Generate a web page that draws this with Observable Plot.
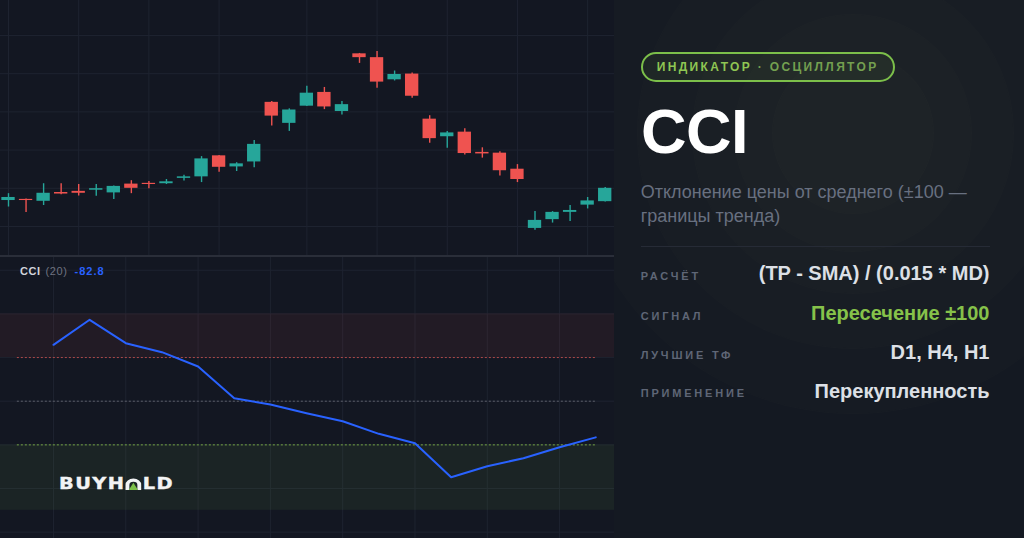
<!DOCTYPE html>
<html><head><meta charset="utf-8">
<script src="https://cdn.jsdelivr.net/npm/d3@7"></script>
<script src="https://cdn.jsdelivr.net/npm/@observablehq/plot@0.6"></script>
<style>
html,body{margin:0;padding:0;background:#131722;width:1024px;height:538px;overflow:hidden;font-family:"Liberation Sans",Arial,sans-serif;}
#wrap{position:relative;width:1024px;height:538px;}
#top{position:absolute;left:0;top:0;}
#cci{position:absolute;left:0;top:256px;}
#sep{position:absolute;left:0;top:255px;width:614px;height:1.5px;background:#2a2e39;}
#cciLabel{position:absolute;left:20px;top:266.4px;font-size:11px;line-height:11px;white-space:nowrap;}
#cciLabel .n{color:#d1d4dc;font-weight:bold;letter-spacing:0.5px;}
#cciLabel .p{color:#6f7380;letter-spacing:0.6px;margin-left:2px;}
#cciLabel .v{color:#2962ff;font-weight:bold;letter-spacing:1px;margin-left:7px;}
#logo{position:absolute;left:59px;top:475.5px;font-family:"DejaVu Sans",sans-serif;font-weight:bold;font-size:15.5px;line-height:16px;color:#f2f3f5;letter-spacing:1.1px;white-space:nowrap;display:flex;align-items:flex-end;transform:scaleX(1.25);transform-origin:0 0;-webkit-text-stroke:0.4px #f2f3f5;}
#logo svg{margin-right:1.1px;margin-bottom:1.5px;}
#panel{position:absolute;left:614px;top:0;width:410px;height:538px;overflow:hidden;background:#141922;}
.ring{position:absolute;border-radius:50%;background:rgba(130,165,105,0.02);border:1px solid rgba(150,190,130,0.012);}
.abs{position:absolute;white-space:nowrap;}
#badge{left:640.7px;top:51.7px;height:30px;box-sizing:border-box;border:2px solid #7cbf4a;border-radius:15px;padding:0 14px;font-size:12px;line-height:26px;font-weight:bold;letter-spacing:2.35px;background:rgba(124,191,74,0.07);}
#badge .a{color:#8fc653;}
#badge .b{color:#74a050;}
#title{left:641px;top:100px;font-size:63px;line-height:63px;font-weight:bold;color:#ffffff;letter-spacing:-0.5px;}
#sub{left:640.7px;top:181.4px;font-size:18px;line-height:23.4px;color:#687080;white-space:normal;width:360px;}
#divider{left:640.7px;top:246px;width:349px;height:1px;background:#262b36;}
.lbl{left:640.7px;font-size:11px;line-height:11px;font-weight:bold;letter-spacing:2.8px;color:#5f6676;}
.val{right:34.5px;font-size:20px;line-height:20px;font-weight:bold;color:#dde0e6;}
.val.g{color:#86c24a;}
</style></head>
<body><div id="wrap">
<div id="panel"></div>
<div id="top"></div>
<div id="cci"></div>
<div id="sep"></div>
<div id="cciLabel"></div>
<div id="logo"><span>BUYH</span><svg width="13" height="12" viewBox="0 0 13 12"><path d="M1.7,12 V7 A4.8,4.8 0 0 1 11.3,7 V12" fill="none" stroke="#f2f3f5" stroke-width="3.2"/><polygon points="6.5,4.8 10.2,12 2.8,12" fill="#7cbf4a"/></svg><span>LD</span></div>
</div>
<script>
// ---- Candles (price units) ----
const opens  = [106.8,107.1,106.6,108.9,109.2,109.5,108.8,111.1,111.3,111.2,112.6,113.0,118.5,115.6,116.9,132.5,127.0,131.5,135.1,130.1,145.2,144.2,138.4,139.9,128.1,123.5,124.7,119.4,119.2,115.0,99.5,101.8,103.7,105.6,106.5];
const highs  = [108.6,107.2,111.2,111.2,111.0,111.0,110.6,112.0,111.8,112.3,113.4,118.3,118.6,116.7,122.5,132.7,130.8,136.7,136.4,132.7,145.3,145.8,140.7,140.2,129.0,124.9,125.6,120.6,119.6,116.2,103.9,103.9,105.5,107.6,110.2];
const lows   = [105.1,103.7,105.5,108.3,108.0,107.9,107.1,108.6,109.9,111.0,111.9,111.5,114.2,114.4,115.4,126.3,124.9,131.4,130.6,129.2,142.7,136.2,138.1,133.6,121.8,120.5,118.7,117.9,113.2,111.5,99.0,100.9,101.3,104.6,106.4];
const closes = [107.6,106.8,108.7,108.5,108.7,109.9,110.5,110.0,111.0,111.7,113.0,117.7,115.5,116.4,121.5,128.9,130.5,134.9,131.3,131.9,144.2,137.8,139.8,134.1,123.0,124.5,119.1,119.0,114.6,112.3,101.6,103.7,104.2,106.7,110.0];
const priceTicks = [100,110,120,130,140,150];
const timeGridIdx = [0,4,8,12,17,21,25,29,33];

// ---- CCI (20) ----
const cciValues = [129.2,186.5,132.9,112.3,79.5,6.9,-7.6,-27.5,-45.8,-74.7,-96.2,-174.1,-148.9,-130.6,-105.4,-82.8];
const cciTicks = [-300,-200,-100,0,100,200,300];
const cciGridIdx = [0,2,4,6,8,10,12,14];
const overbought = [100,200];
const oversold = [-250,-100];
const levelUpper = 100, levelMid = 0, levelLower = -100;
const cciPeriod = 20;

// ---- Panel texts ----
const badgeMain = "ИНДИКАТОР", badgeSub = "· ОСЦИЛЛЯТОР";
const titleText = "CCI";
const subText = "Отклонение цены от среднего (±100 — границы тренда)";
const rowLabels = ["РАСЧЁТ","СИГНАЛ","ЛУЧШИЕ ТФ","ПРИМЕНЕНИЕ"];
const rowValues = ["(TP - SMA) / (0.015 * MD)","Пересечение ±100","D1, H4, H1","Перекупленность"];

const UP = "#26a69a", DOWN = "#ef5350", GRID = "#1e2330";
const candles = opens.map((o,i)=>({i, open:o, high:highs[i], low:lows[i], close:closes[i]}));
const col = d => d.close >= d.open ? UP : DOWN;

const topPlot = Plot.plot({
  width: 614, height: 256, margin: 0,
  style: {background: "transparent"},
  x: {domain: [-0.456, 34.53], axis: null},
  y: {domain: [92.15, 159.16], axis: null},
  color: {type: "identity"},
  marks: [
    Plot.ruleY(priceTicks, {stroke: GRID, strokeWidth: 1}),
    Plot.ruleX(timeGridIdx, {stroke: GRID, strokeWidth: 1}),
    Plot.ruleX(candles, {x: "i", y1: "low", y2: "high", stroke: col, strokeWidth: 1.4}),
    Plot.rect(candles, {x1: d => d.i - 0.38, x2: d => d.i + 0.38, y1: "open", y2: "close", fill: col})
  ]
});
document.getElementById("top").appendChild(topPlot);

const cciPlot = Plot.plot({
  width: 614, height: 282, margin: 0,
  style: {background: "transparent"},
  x: {domain: [-1.466, 15.519], axis: null},
  y: {domain: [-314.5, 331.5], axis: null},
  marks: [
    Plot.ruleY(cciTicks, {stroke: GRID, strokeWidth: 1}),
    Plot.ruleX(cciGridIdx, {stroke: GRID, strokeWidth: 1}),
    Plot.rect([overbought], {y1: d => d[0], y2: d => d[1], fill: "#ef5350", fillOpacity: 0.07}),
    Plot.rect([oversold], {y1: d => d[0], y2: d => d[1], fill: "#8bc34a", fillOpacity: 0.075}),
    Plot.ruleY([levelUpper], {x1: -1, x2: 15, stroke: "#c9504d", strokeOpacity: 0.85, strokeDasharray: "2,2", strokeWidth: 1}),
    Plot.ruleY([levelMid], {x1: -1, x2: 15, stroke: "#5d606b", strokeDasharray: "2,2", strokeWidth: 1}),
    Plot.ruleY([levelLower], {x1: -1, x2: 15, stroke: "#8bc34a", strokeOpacity: 0.8, strokeDasharray: "2,2", strokeWidth: 1}),
    Plot.line(cciValues, {x: (d,i) => i, y: d => d, stroke: "#2962ff", strokeWidth: 2})
  ]
});
document.getElementById("cci").appendChild(cciPlot);

document.getElementById("cciLabel").innerHTML =
  `<span class="n">CCI</span> <span class="p">(${cciPeriod})</span><span class="v">${cciValues[cciValues.length-1].toFixed(1)}</span>`;

// Panel
const panel = document.getElementById("panel");
const cx = 238, cy = 132;
[280, 215, 160, 118, 80].forEach(r => {
  const d = document.createElement("div");
  d.className = "ring";
  d.style.left = (cx - r) + "px"; d.style.top = (cy - r) + "px";
  d.style.width = (2*r) + "px"; d.style.height = (2*r) + "px";
  panel.appendChild(d);
});
const wrap = document.getElementById("wrap");
function add(cls, id, html, style) {
  const d = document.createElement("div");
  d.className = "abs " + cls; if (id) d.id = id;
  d.innerHTML = html; Object.assign(d.style, style || {});
  wrap.appendChild(d); return d;
}
add("", "badge", `<span class="a">${badgeMain}</span> <span class="b">${badgeSub}</span>`);
add("", "title", titleText);
add("", "sub", subText);
add("", "divider", "");
const baselines = [280, 320, 359, 397.7];
rowLabels.forEach((t,i) => add("lbl", null, t, {top: (baselines[i] - 9.31) + "px"}));
rowValues.forEach((t,i) => add("val" + (i===1 ? " g" : ""), null, t, {top: (baselines[i] - 16.93) + "px"}));
</script>
</body></html>
